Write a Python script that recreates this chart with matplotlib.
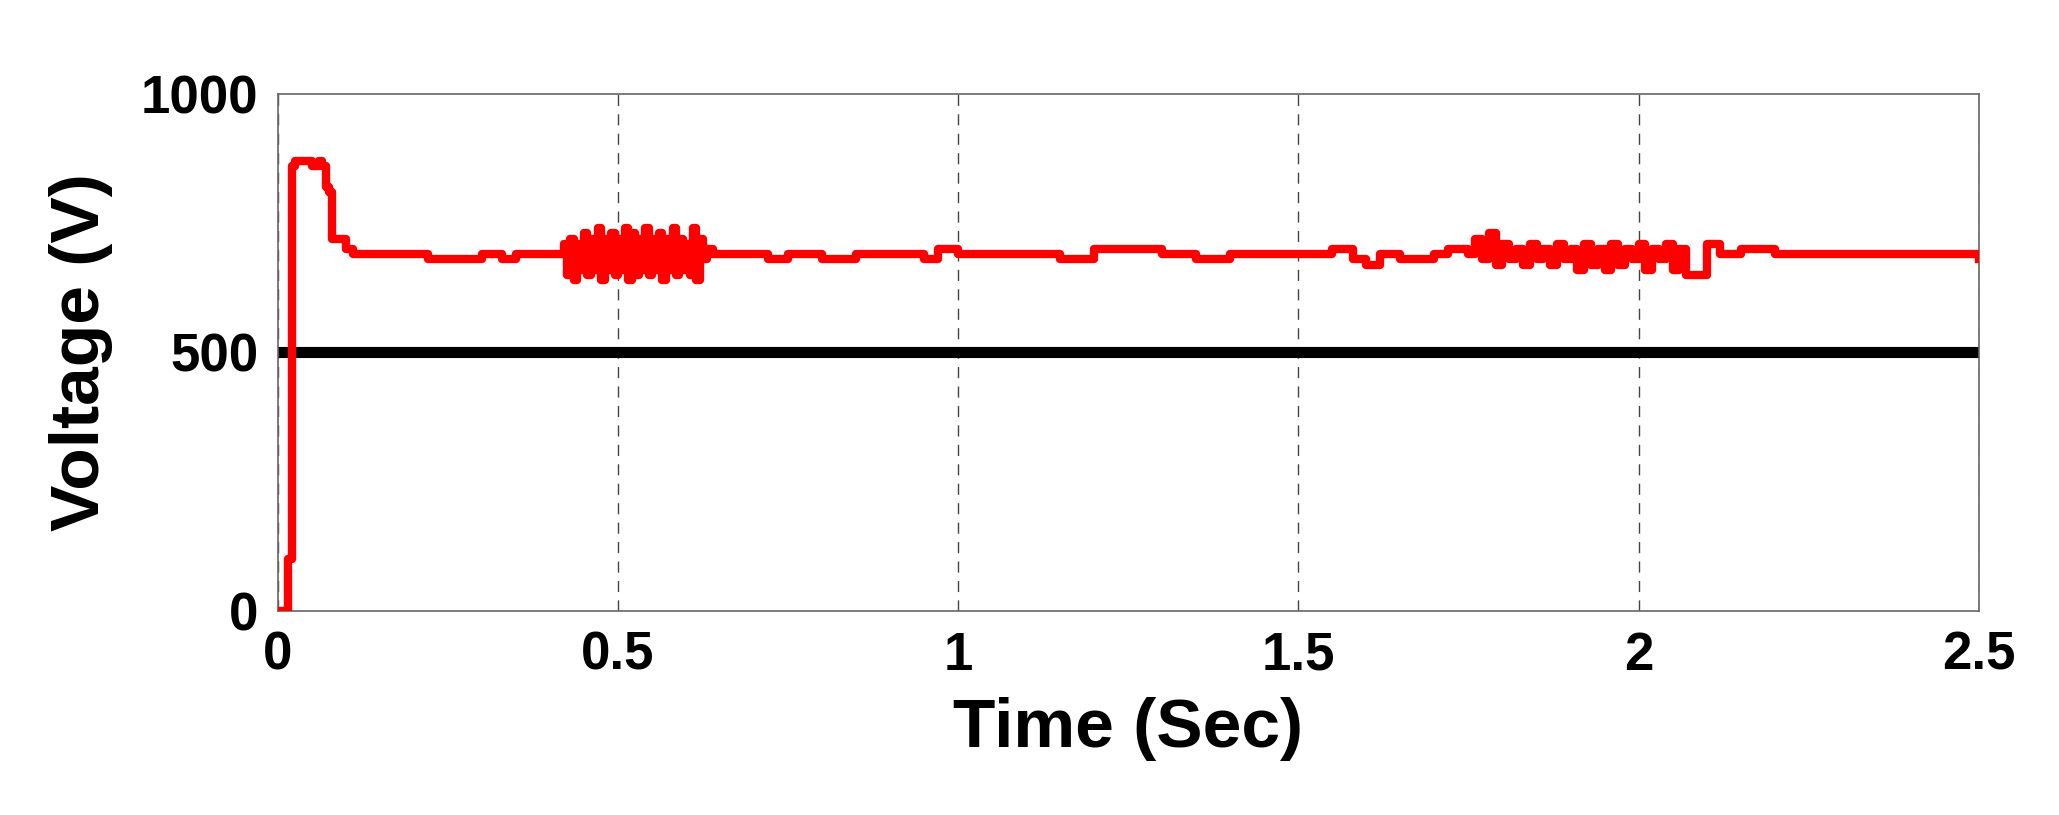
import matplotlib
matplotlib.use("Agg")
import matplotlib.pyplot as plt

start_t = [0.0, 0.01, 0.015, 0.02, 0.025, 0.03, 0.05, 0.06, 0.065, 0.07, 0.075, 0.08, 0.09, 0.1, 0.11, 0.2, 0.22, 0.3, 0.33, 0.35, 0.37, 0.4, 0.41]
start_v = [0, 0, 100, 860, 870, 870, 860, 870, 860, 820, 810, 720, 720, 700, 690, 690, 680, 690, 680, 690, 690, 690, 690]
osc1_t = [0.42, 0.425, 0.43, 0.435, 0.44, 0.445, 0.45, 0.455, 0.46, 0.465, 0.47, 0.475, 0.48, 0.485, 0.49, 0.495, 0.5, 0.505, 0.51, 0.515,
          0.52, 0.525, 0.53, 0.535, 0.54, 0.545, 0.55, 0.555, 0.56, 0.565, 0.57, 0.575, 0.58, 0.585, 0.59, 0.595, 0.6, 0.605, 0.61, 0.615,
          0.62, 0.625, 0.63, 0.64]
osc1_v = [710, 650, 720, 640, 710, 660, 730, 650, 720, 660, 740, 640, 720, 660, 730, 650, 720, 660, 740, 640,
          730, 650, 720, 660, 740, 650, 720, 660, 730, 640, 720, 660, 740, 650, 720, 660, 710, 650, 740, 640,
          720, 680, 700, 690]
mid_t = [0.7, 0.72, 0.75, 0.8, 0.85, 0.9, 0.95, 0.97, 1.0, 1.1, 1.15, 1.2, 1.3, 1.35, 1.4, 1.5, 1.55, 1.58, 1.6, 1.62, 1.65, 1.7, 1.72, 1.75]
mid_v = [690, 680, 690, 680, 690, 690, 680, 700, 690, 690, 680, 700, 690, 680, 690, 690, 700, 680, 670, 690, 680, 690, 700, 690]
osc2_t = [1.76, 1.77, 1.78, 1.79, 1.8, 1.81, 1.82, 1.83, 1.84, 1.85, 1.86, 1.87, 1.88, 1.89, 1.9, 1.91,
          1.92, 1.93, 1.94, 1.95, 1.96, 1.97, 1.98, 1.99, 2.0, 2.01, 2.02, 2.03, 2.04, 2.05, 2.06, 2.07]
osc2_v = [720, 680, 730, 670, 710, 680, 700, 670, 710, 680, 700, 670, 710, 680, 700, 660,
          710, 670, 700, 660, 710, 670, 700, 680, 710, 660, 700, 680, 710, 660, 700, 650]
end_t = [2.1, 2.12, 2.15, 2.2, 2.3, 2.35, 2.4, 2.45, 2.5]
end_v = [710, 690, 700, 690, 690, 690, 690, 690, 680]
ref_time = [0.0, 2.5]
ref_voltage = [500, 500]

time_s = start_t + osc1_t + mid_t + osc2_t + end_t
voltage_v = start_v + osc1_v + mid_v + osc2_v + end_v

plt.rcParams['font.family'] = ['Liberation Sans', 'DejaVu Sans']
fig = plt.figure(figsize=(20.59, 8.15), dpi=100)
ax = fig.add_axes([0.135, 0.25, 0.826, 0.635])
ax.plot(ref_time, ref_voltage, color='black', lw=8, zorder=2)
ax.plot(time_s, voltage_v, color='#ff0000', lw=6, zorder=3, drawstyle='steps-post')
ax.set_xlim(0, 2.5)
ax.set_ylim(0, 1000)
ax.set_xticks([0, 0.5, 1, 1.5, 2, 2.5])
ax.set_xticklabels(['0', '0.5', '1', '1.5', '2', '2.5'])
ax.set_yticks([0, 500, 1000])
ax.grid(axis='x', color='#444444', ls=(0, (8, 6)), lw=1)
ax.tick_params(labelsize=38, length=0, pad=14)
for l in ax.get_xticklabels() + ax.get_yticklabels():
    l.set_fontweight('bold')
ax.set_xlabel('Time (Sec)', fontsize=50, fontweight='bold', labelpad=12)
ax.set_ylabel('Voltage (V)', fontsize=50, fontweight='bold', labelpad=20)
for s in ax.spines.values():
    s.set_color('#666666'); s.set_linewidth(1.2)
fig.savefig('out.png', dpi=100)
